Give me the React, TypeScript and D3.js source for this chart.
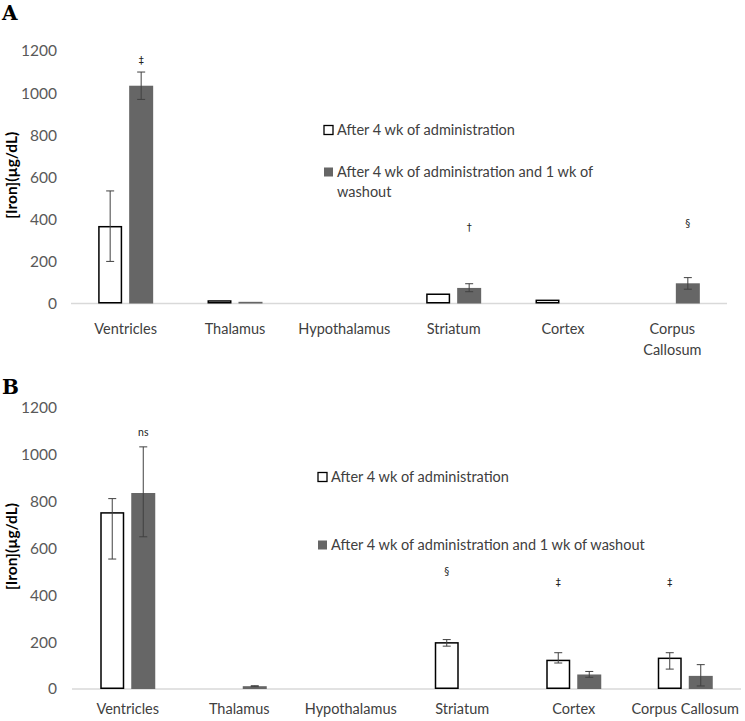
import React from 'react';
import * as d3 from 'd3';

const categories = ['Ventricles', 'Thalamus', 'Hypothalamus', 'Striatum', 'Cortex', 'Corpus Callosum'];
const seriesNames = ['After 4 wk of administration', 'After 4 wk of administration and 1 wk of washout'];
const yTicks = [0, 200, 400, 600, 800, 1000, 1200];

// panel A
const aWhite = [365, 12, 0, 44, 15, 0];
const aWhiteHi = [170, 0, 0, 0, 0, 0];
const aWhiteLo = [165, 0, 0, 0, 0, 0];
const aGray = [1035, 8, 0, 74, 0, 96];
const aGrayHi = [65, 0, 0, 20, 0, 27];
const aGrayLo = [65, 0, 0, 18, 0, 28];
const aMarks = [
  { cat: 'Ventricles', s: 1, text: '\u2021', v: 1157 },
  { cat: 'Striatum', s: 1, text: '\u2020', v: 359 },
  { cat: 'Corpus Callosum', s: 1, text: '\u00a7', v: 382 },
];

// panel B
const bWhite = [752, 0, 0, 197, 122, 131];
const bWhiteHi = [61, 0, 0, 14, 33, 24];
const bWhiteLo = [197, 0, 0, 14, 11, 46];
const bGray = [837, 12, 0, 0, 62, 56];
const bGrayHi = [197, 2, 0, 0, 13, 48];
const bGrayLo = [187, 2, 0, 0, 12, 43];
const bMarks = [
  { cat: 'Ventricles', s: 1, text: 'ns', v: 1094 },
  { cat: 'Striatum', s: 0, text: '\u00a7', v: 500 },
  { cat: 'Cortex', s: 0, text: '\u2021', v: 453 },
  { cat: 'Corpus Callosum', s: 0, text: '\u2021', v: 453 },
];

const FONT = 'Lato, "Open Sans", sans-serif';
const GRAY = '#666666';

function Panel({ letter, top, x0, x1, yTop, yBase, labelGap, values, his, los, marks, wrap, legend }) {
  const x = d3.scaleBand().domain(categories).range([x0, x1]);
  const sub = d3.scaleBand().domain(['0', '1']).range([0, 55]).paddingInner(0.226);
  const y = d3.scaleLinear().domain([0, 1200]).range([yBase, yTop]);
  const bw = sub.bandwidth();
  const fills = ['#ffffff', GRAY];

  return (
    <g>
      <text x={2} y={top + 20} fontFamily='"DejaVu Serif", serif' fontWeight="bold" fontSize={20}>{letter}</text>
      {yTicks.map(t => (
        <text key={t} x={57} y={y(t)} dy="0.35em" textAnchor="end" fontFamily={FONT} fontSize={15.5} fill="#595959">{t}</text>
      ))}
      <text transform={`translate(17,${(yTop + yBase) / 2 - 2}) rotate(-90)`} textAnchor="middle"
        fontFamily={FONT} fontWeight="bold" fontSize={15.5} fill="#000">[Iron](µg/dL)</text>
      <line x1={x0} x2={x1} y1={yBase} y2={yBase} stroke="#d9d9d9" strokeWidth={1.5} />
      {categories.map((c, i) => {
        const gx = x(c) + (x.bandwidth() - 55) / 2;
        return (
          <g key={c}>
            {values.map((vals, s) => {
              const v = vals[i];
              if (!v) return null;
              const bx = gx + sub(String(s));
              return (
                <rect key={s} x={s === 0 ? bx + 0.75 : bx} y={y(v)} width={s === 0 ? bw - 1.5 : bw}
                  height={yBase - y(v) - (s === 0 ? 0.75 : 0)} fill={fills[s]}
                  stroke={s === 0 ? '#000' : 'none'} strokeWidth={1.5} />
              );
            })}
            {values.map((vals, s) => {
              const v = vals[i];
              if (!v || !his[s][i]) return null;
              const cx = gx + sub(String(s)) + bw / 2;
              const yh = y(v + his[s][i]);
              const yl = y(v - los[s][i]);
              return (
                <g key={'e' + s} stroke="#404040" strokeWidth={1}>
                  <line x1={cx} x2={cx} y1={yh} y2={yl} />
                  <line x1={cx - 4} x2={cx + 4} y1={yh} y2={yh} />
                  <line x1={cx - 4} x2={cx + 4} y1={yl} y2={yl} />
                </g>
              );
            })}
            {(wrap && c.includes(' ') ? c.split(' ') : [c]).map((w, k) => (
              <text key={w} x={x(c) + x.bandwidth() / 2} y={yBase + labelGap + k * 21} dy="0.35em" textAnchor="middle"
                fontFamily={FONT} fontSize={14.5} fill="#404040">{w}</text>
            ))}
          </g>
        );
      })}
      {marks.map((m, k) => (
        <text key={k} x={x(m.cat) + (x.bandwidth() - 55) / 2 + sub(String(m.s)) + bw / 2} y={y(m.v)} dy="0.35em"
          textAnchor="middle" fontFamily={m.text === 'ns' ? FONT : '"DejaVu Sans", sans-serif'}
          fontSize={m.text === 'ns' ? 10.5 : 10} fill="#222222">{m.text}</text>
      ))}
      {legend.map((l, k) => (
        <g key={k}>
          <rect x={l.x} y={l.y - 4.5} width={9} height={9} fill={fills[k]} stroke={k === 0 ? '#000' : 'none'} strokeWidth={1.3} />
          {l.lines.map((t, j) => (
            <text key={j} x={l.x + 13} y={l.y + j * 20} dy="0.35em" fontFamily={FONT} fontSize={14.5} fill="#404040">{t}</text>
          ))}
        </g>
      ))}
    </g>
  );
}

export default function App() {
  return (
    <svg width={745} height={721} style={{ position: 'absolute', left: 0, top: 0, background: '#fff' }}>
      <rect width={745} height={721} fill="#fff" />
      <Panel letter="A" top={0} x0={71} x1={727} yTop={51} yBase={303.5} labelGap={25}
        values={[aWhite, aGray]} his={[aWhiteHi, aGrayHi]} los={[aWhiteLo, aGrayLo]} marks={aMarks} wrap
        legend={[
          { x: 324, y: 130, lines: [seriesNames[0]] },
          { x: 324, y: 172, lines: ['After 4 wk of administration and 1 wk of', 'washout'] },
        ]} />
      <Panel letter="B" top={374} x0={72} x1={741} yTop={408} yBase={689} labelGap={20}
        values={[bWhite, bGray]} his={[bWhiteHi, bGrayHi]} los={[bWhiteLo, bGrayLo]} marks={bMarks} wrap={false}
        legend={[
          { x: 318, y: 477, lines: [seriesNames[0]] },
          { x: 318, y: 545, lines: [seriesNames[1]] },
        ]} />
    </svg>
  );
}
